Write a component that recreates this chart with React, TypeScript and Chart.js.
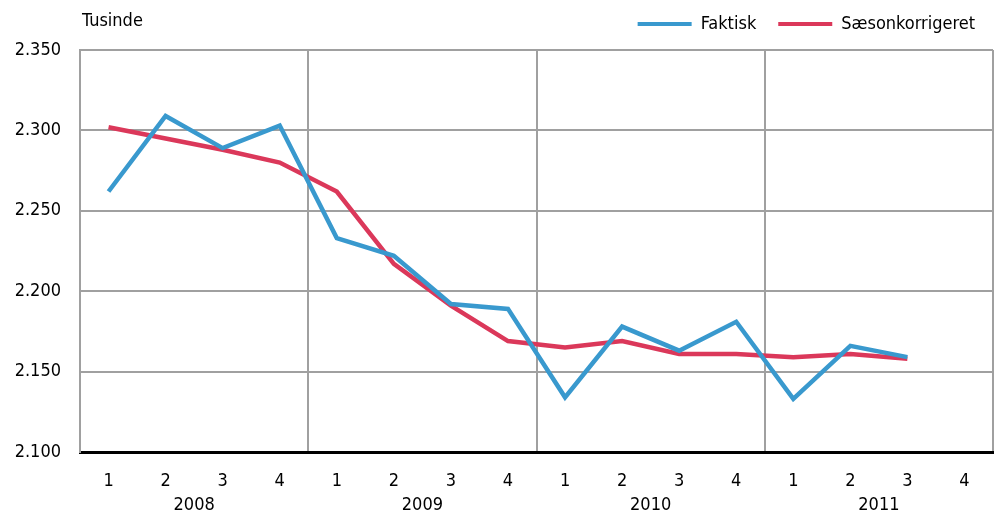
import React, { useEffect, useRef } from 'react';
import { Chart, registerables } from 'chart.js';

Chart.register(...registerables);

const quarterLabels = ['1', '2', '3', '4', '1', '2', '3', '4', '1', '2', '3', '4', '1', '2', '3', '4'];
const yearLabels = ['2008', '2009', '2010', '2011'];
const faktisk = [2262, 2309, 2289, 2303, 2233, 2222, 2192, 2189, 2134, 2178, 2163, 2181, 2133, 2166, 2159, null];
const saesonkorrigeret = [2302, 2295, 2288, 2280, 2262, 2217, 2191, 2169, 2165, 2169, 2161, 2161, 2159, 2161, 2158, null];
const yMin = 2100;
const yMax = 2350;
const yStep = 50;
const unitLabel = 'Tusinde';

const FONT = "'DejaVu Sans Condensed', 'DejaVu Sans', sans-serif";
const FS = 18;
const BLUE = 'rgb(57,153,206)';
const RED = 'rgb(219,56,90)';
const GRID = 'rgb(160,160,160)';

const fmt = (v: number) => String(v).replace(/\B(?=(\d{3})+(?!\d))/g, '.');

const unitPlugin = {
  id: 'unitLabel',
  beforeUpdate(chart: any) {
    const lg = chart.legend;
    if (lg && !lg.__patched) {
      lg.__patched = true;
      const origFit = lg.fit;
      lg.fit = function (this: any) {
        origFit.call(this);
        this.height += 7;
      };
      const origDraw = lg.draw;
      lg.draw = function (this: any) {
        const ctx = this.ctx;
        ctx.save();
        ctx.translate(4, 0);
        origDraw.call(this);
        ctx.restore();
      };
    }
  },
  afterDraw(chart: any) {
    const { ctx, chartArea } = chart;
    ctx.save();
    ctx.font = `${FS}px ${FONT}`;
    ctx.fillStyle = '#000';
    ctx.textAlign = 'left';
    ctx.textBaseline = 'middle';
    ctx.fillText(unitLabel, chartArea.left + 2, 21);
    ctx.restore();
  },
};

export default function App() {
  const ref = useRef<HTMLCanvasElement | null>(null);
  useEffect(() => {
    document.body.style.margin = '0';
    const chart = new Chart(ref.current as HTMLCanvasElement, {
      type: 'line',
      data: {
        labels: quarterLabels,
        datasets: [
          {
            label: 'Faktisk',
            data: faktisk,
            borderColor: BLUE,
            backgroundColor: BLUE,
            borderWidth: 4.5,
            pointRadius: 0,
            tension: 0,
            borderJoinStyle: 'miter',
          },
          {
            label: 'Sæsonkorrigeret',
            data: saesonkorrigeret,
            borderColor: RED,
            backgroundColor: RED,
            borderWidth: 4.5,
            pointRadius: 0,
            tension: 0,
            borderJoinStyle: 'miter',
          },
        ],
      },
      options: {
        responsive: false,
        animation: false,
        layout: { padding: { left: 0, right: 4, top: -7, bottom: 0 } },
        plugins: {
          tooltip: { enabled: false },
          legend: {
            position: 'top',
            align: 'end',
            labels: {
              boxWidth: 54,
              boxHeight: 4,
              padding: 22,
              color: '#000',
              font: { family: FONT, size: FS },
              generateLabels(chart: any) {
                const items = (Chart.defaults as any).plugins.legend.labels.generateLabels(chart);
                return items.map((it: any) => ({ ...it, lineWidth: 0 }));
              },
            },
          },
        },
        scales: {
          x: {
            type: 'category',
            position: 'bottom',
            weight: 1,
            offset: true,
            grid: { display: false, drawTicks: false },
            border: { display: true, color: '#000', width: 3 },
            ticks: {
              color: '#000',
              font: { family: FONT, size: FS },
              padding: 19,
              autoSkip: false,
              maxRotation: 0,
            },
            afterFit(scale: any) {
              scale.height = 40;
            },
          },
          x2: {
            type: 'category',
            position: 'bottom',
            weight: 2,
            labels: yearLabels,
            offset: true,
            grid: { display: true, offset: true, drawTicks: false, color: GRID, lineWidth: 2 },
            border: { display: false },
            ticks: {
              color: '#000',
              font: { family: FONT, size: FS },
              padding: 3,
              autoSkip: false,
              maxRotation: 0,
            },
            afterFit(scale: any) {
              scale.height = 22;
            },
          },
          y: {
            min: yMin,
            max: yMax,
            grid: { color: GRID, lineWidth: 2, drawTicks: false },
            border: { display: true, color: GRID, width: 2 },
            ticks: {
              stepSize: yStep,
              color: '#000',
              font: { family: FONT, size: FS },
              padding: 19,
              callback: (v: any) => fmt(Number(v)),
            },
            afterFit(scale: any) {
              scale.width = 80;
            },
          },
        },
      },
      plugins: [unitPlugin],
    } as any);
    return () => chart.destroy();
  }, []);
  return (
    <div style={{ position: 'absolute', left: 0, top: 0, width: 997, height: 514 }}>
      <canvas ref={ref} width={997} height={514} style={{ width: 997, height: 514 }} />
    </div>
  );
}
